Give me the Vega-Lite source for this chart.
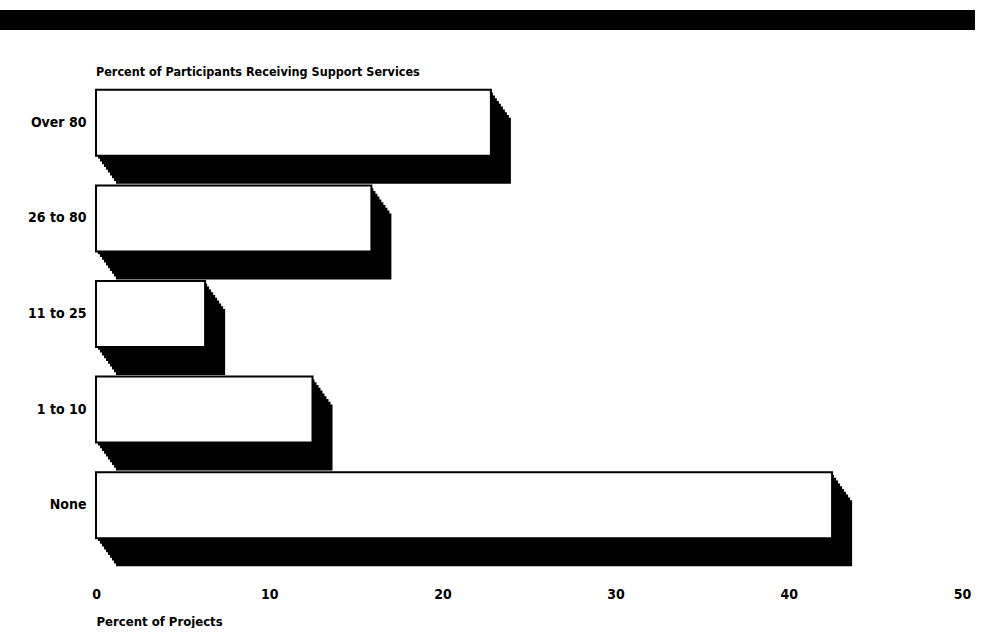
{
  "$schema": "https://vega.github.io/schema/vega-lite/v6.json",
  "padding": {"left": 0, "top": 10, "right": 0, "bottom": 0},
  "background": "white",
  "columns": 1,
  "spacing": 36,
  "config": {"view": {"stroke": null}, "font": "'DejaVu Sans Condensed', 'Liberation Sans', sans-serif"},
  "concat": [
    {
      "width": 879,
      "height": 20,
      "data": {"values": [{"band": "header"}]},
      "mark": {"type": "rect", "color": "black", "xOffset": -96},
      "encoding": {
        "x": {"datum": 0, "type": "quantitative", "scale": {"domain": [0, 1]}, "axis": null},
        "x2": {"datum": 1}
      }
    },
    {
      "width": 866,
      "height": 478,
      "title": {"text": "Percent of Participants Receiving Support Services", "anchor": "start", "frame": "group", "fontSize": 12.5, "fontWeight": "bold", "color": "black", "offset": 10},
      "data": {"values": [
        {"category": "Over 80", "percent": 22.8},
        {"category": "26 to 80", "percent": 15.9},
        {"category": "11 to 25", "percent": 6.3},
        {"category": "1 to 10", "percent": 12.5},
        {"category": "None", "percent": 42.5}
      ]},
      "encoding": {
        "y": {
          "field": "category", "type": "nominal",
          "sort": ["Over 80", "26 to 80", "11 to 25", "1 to 10", "None"],
          "scale": {"paddingInner": 0, "paddingOuter": 0},
          "axis": {"title": null, "domain": false, "ticks": false, "labelFontSize": 14, "labelFontWeight": "bold", "labelColor": "black", "labelPadding": 10, "labelOffset": -14, "minExtent": 96}
        },
        "x": {
          "field": "percent", "type": "quantitative",
          "scale": {"domain": [0, 50]},
          "axis": {"title": "Percent of Projects", "titleAnchor": "start", "titleAlign": "left", "titleFontSize": 13, "titleFontWeight": "bold", "titleColor": "black", "domain": false, "ticks": false, "grid": false, "values": [0, 10, 20, 30, 40, 50], "labelFontSize": 14, "labelFontWeight": "bold", "labelColor": "black", "labelPadding": 20, "titlePadding": 14, "labelFlush": false}
        }
      },
      "layer": [
        {"mark": {"type": "bar", "color": "black", "size": 66, "xOffset": 20, "x2Offset": 20, "yOffset": 14, "y2Offset": 14}},
        {"mark": {"type": "bar", "color": "black", "size": 66, "xOffset": 18, "x2Offset": 18, "yOffset": 11.2, "y2Offset": 11.2}},
        {"mark": {"type": "bar", "color": "black", "size": 66, "xOffset": 16, "x2Offset": 16, "yOffset": 8.4, "y2Offset": 8.4}},
        {"mark": {"type": "bar", "color": "black", "size": 66, "xOffset": 14, "x2Offset": 14, "yOffset": 5.6, "y2Offset": 5.6}},
        {"mark": {"type": "bar", "color": "black", "size": 66, "xOffset": 12, "x2Offset": 12, "yOffset": 2.8, "y2Offset": 2.8}},
        {"mark": {"type": "bar", "color": "black", "size": 66, "xOffset": 10, "x2Offset": 10, "yOffset": 0, "y2Offset": 0}},
        {"mark": {"type": "bar", "color": "black", "size": 66, "xOffset": 8, "x2Offset": 8, "yOffset": -2.8, "y2Offset": -2.8}},
        {"mark": {"type": "bar", "color": "black", "size": 66, "xOffset": 6, "x2Offset": 6, "yOffset": -5.6, "y2Offset": -5.6}},
        {"mark": {"type": "bar", "color": "black", "size": 66, "xOffset": 4, "x2Offset": 4, "yOffset": -8.4, "y2Offset": -8.4}},
        {"mark": {"type": "bar", "color": "black", "size": 66, "xOffset": 2, "x2Offset": 2, "yOffset": -11.2, "y2Offset": -11.2}},
        {"mark": {"type": "bar", "fill": "white", "stroke": "black", "strokeWidth": 2, "size": 66, "yOffset": -14, "y2Offset": -14}}
      ]
    }
  ]
}
